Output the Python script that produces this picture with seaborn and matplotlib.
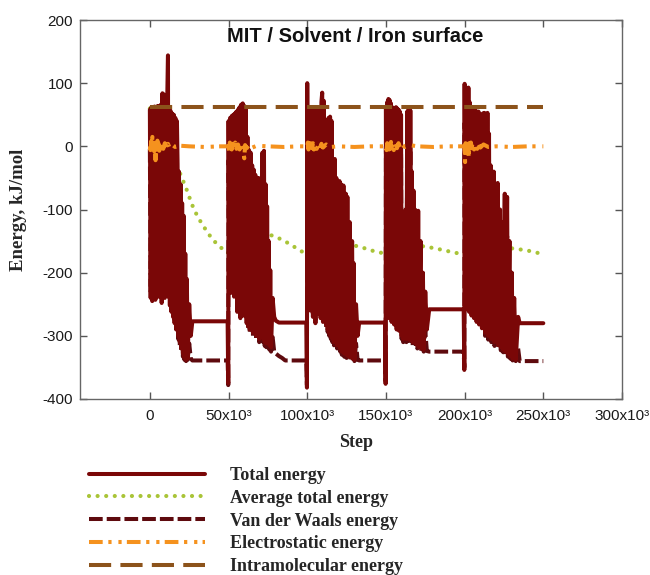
import matplotlib
matplotlib.use("Agg")
import matplotlib.pyplot as plt
import numpy as np
import pandas as pd
import seaborn as sns

# ---------------- data (steps in thousands, energies in kJ/mol) ----------------
md_step_k = [
    # cycle 1
    0.0, 0.5, 1.0, 1.5, 2.0, 2.5, 3.0, 3.5, 4.0, 4.5, 5.0, 5.5, 6.0, 6.5, 7.0, 7.5,
    8.0, 8.5, 9.0, 9.5, 10.0, 10.5, 11.0, 11.5, 11.7, 12.2, 12.7, 13.2, 13.7, 14.2,
    14.7, 15.2, 15.7, 16.2, 16.7, 17.2, 17.6, 18.0, 18.5, 19.0, 19.5, 20.0, 20.5,
    21.0, 21.5, 22.0, 22.5, 23.0, 23.5, 24.0, 25.0, 26.0, 27.0, 49.4, 49.8,
    # cycle 2
    50.0, 50.5, 51.0, 51.5, 52.0, 52.5, 53.0, 53.5, 54.0, 54.5, 55.0, 55.5, 56.0,
    56.5, 57.0, 57.5, 58.0, 58.5, 59.0, 59.5, 60.0, 60.5, 61.0, 61.5, 62.0, 62.5,
    63.0, 63.5, 64.0, 64.5, 65.0, 65.5, 66.0, 66.5, 67.0, 67.5, 68.0, 68.5, 69.0,
    69.5, 70.0, 70.5, 71.5, 72.0, 72.5, 73.0, 73.5, 74.0, 74.5, 75.0, 75.5, 76.0,
    76.5, 77.0, 78.0, 79.0, 80.0, 82.0, 84.0, 86.0, 99.4, 99.8,
    # cycle 3
    100.0, 100.4, 100.8, 101.2, 101.6, 102.0, 102.4, 102.8, 103.2, 103.6, 104.0,
    104.4, 104.8, 105.2, 105.6, 106.0, 106.4, 106.8, 107.2, 107.6, 108.0, 108.5,
    109.0, 109.5, 110.0, 110.5, 111.0, 111.5, 112.0, 112.5, 113.0, 113.5, 114.0,
    114.5, 115.0, 115.5, 116.0, 116.5, 117.0, 117.5, 118.0, 118.5, 119.0, 119.5,
    120.0, 120.5, 121.0, 121.5, 122.0, 123.0, 123.5, 124.5, 125.0, 125.5, 126.0,
    127.0, 127.5, 128.5, 129.0, 129.5, 130.0, 131.0, 132.0, 133.0, 149.4, 149.8,
    # cycle 4
    150.0, 150.4, 150.8, 151.2, 151.6, 152.0, 152.4, 152.8, 153.2, 153.6, 154.0,
    154.4, 154.8, 155.2, 155.6, 156.0, 156.4, 156.8, 157.2, 157.6, 158.0, 158.4,
    158.8, 159.2, 159.6, 160.0, 160.5, 161.0, 161.5, 162.0, 162.5, 163.0, 163.5,
    164.0, 164.5, 165.0, 165.5, 166.0, 166.5, 167.0, 167.5, 168.0, 168.5, 169.0,
    169.5, 170.0, 170.5, 171.0, 172.0, 172.5, 173.5, 174.0, 175.0, 176.0, 177.5,
    199.4, 199.8,
    # cycle 5
    200.0, 200.4, 200.8, 201.2, 201.6, 202.0, 202.4, 202.8, 203.2, 203.6, 204.0,
    204.4, 204.8, 205.2, 205.6, 206.0, 206.4, 206.8, 207.2, 207.6, 208.0, 208.4,
    208.8, 209.2, 209.6, 210.0, 210.5, 211.0, 211.5, 212.0, 212.5, 213.0, 213.5,
    214.0, 214.5, 215.0, 215.5, 216.0, 216.5, 217.0, 217.5, 218.0, 218.5, 219.0,
    219.5, 220.0, 221.0, 221.5, 222.5, 223.0, 224.0, 224.5, 225.5, 226.0, 227.0,
    227.5, 228.5, 229.0, 230.0, 230.5, 231.5, 232.5, 234.0, 235.0, 250.0,
]

total_energy = [
    # cycle 1
    58, -240, 62, -245, 60, -200, 63, -243, 61, -215, 64, -238, 62, -222, 66, -248,
    84, -213, 82, -240, 64, -195, 70, 144, -238, 60, -252, 56, -262, 52,
    -270, 50, -280, 45, -290, 40, -27, -300, -40, -310, -60, -320, -90,
    -328, -110, -334, -170, -338, -210, -336, -250, -300, -277, -277, -375,
    # cycle 2
    40, -222, 45, -232, 48, -210, 50, -238, 52, -228, 55, -262, 58,
    -233, 62, -272, 66, -242, 68, -268, 64, -252, 60, -280, 15, -285,
    -6, -290, -10, -282, -30, -295, -37, -290, -45, -300, -58, -295, -50,
    -305, -80, -300, -10, -305, -7, -310, -60, -312, -95, -310, -150, -315,
    -196, -318, -240, -270, -276, -279, -279, -279, -279, -382,
    # cycle 3
    100, -200, 62, -240, 55, -260, 60, -245, 50, -270, 58,
    -250, 62, -280, 52, -255, 60, -265, 55, -262, 62, -272,
    70, 85, -278, 72, -268, 41, -282, 36, -290, 45, -295,
    47, -300, 40, -305, -43, -310, -20, -305, -50, -315, -58,
    -312, -55, -320, -60, -325, -62, -328, -75, -330, -80, -332,
    -120, -334, -150, -336, -185, -338, -250, -300, -279, -279, -376,
    # cycle 4
    62, -262, 70, -255, 75, -272, 73, -258, 68, -278, 62,
    -262, 60, -282, 58, -268, 62, -290, 60, -272, 58, -292,
    55, -278, 50, -300, -120, -305, -150, -300, -100, -305, 55,
    -300, 60, -306, 57, -305, -40, -310, -70, -308, -100, -312,
    -104, -315, -102, -318, -150, -320, -200, -322, -230, -290, -258,
    -258, -354,
    # cycle 5
    99, -245, 92, -258, 65, -250, 93, -262, 70, -255, 62,
    -268, 60, -258, 58, -272, 62, -262, 56, -278, 52, -268,
    55, -282, 50, -272, 48, -288, 52, -278, 53, -295, 50,
    -290, 53, -300, 20, -298, -30, -305, -58, -303, -40, -310,
    -60, -308, -58, -315, -100, -318, -120, -322, -75, -325, -80,
    -328, -150, -332, -200, -336, -240, -338, -270, -280, -280,
]

vdw_energy = [
    # cycle 1
    -4, -230, 0, -235, -2, -190, 1, -233, -1, -205, 2, -228, 0, -212, 3, -238,
    22, -203, 20, -230, 2, -185, 8, 80, -228, -2, -242, -6, -252, -10,
    -265, -12, -275, -18, -285, -22, -90, -305, -105, -315, -125, -325, -150,
    -333, -175, -338, -235, -340, -272, -338, -312, -336, -339, -339, -378,
    # cycle 2
    -22, -215, -17, -225, -14, -203, -12, -230, -10, -220, -7, -255, -4,
    -226, 0, -265, 4, -235, 6, -260, 2, -245, -2, -272, -47, -290,
    -68, -296, -72, -288, -92, -300, -100, -296, -108, -306, -120, -300, -112,
    -310, -142, -306, -72, -310, -70, -316, -122, -318, -158, -316, -212, -322,
    -258, -325, -302, -325, -328, -332, -335, -339, -339, -378,
    # cycle 3
    30, -195, -2, -235, -6, -255, -4, -240, -10, -265, -4,
    -245, 0, -275, -8, -250, -2, -260, -6, -258, 0, -268,
    8, 22, -273, 10, -263, -21, -286, -26, -294, -17, -300,
    -15, -305, -22, -310, -105, -315, -82, -310, -112, -320, -120,
    -317, -118, -325, -122, -330, -125, -333, -138, -335, -142, -337,
    -182, -338, -212, -339, -248, -340, -312, -338, -339, -339, -372,
    # cycle 4
    0, -255, 8, -248, 12, -265, 10, -250, 6, -270, 0,
    -255, -2, -275, -4, -260, 0, -283, -2, -265, -4, -285,
    -7, -270, -12, -305, -182, -310, -212, -306, -162, -310, -7,
    -306, -2, -312, -5, -310, -102, -316, -132, -314, -162, -318,
    -166, -320, -165, -322, -212, -324, -262, -325, -292, -324, -325,
    -325, -350,
    # cycle 5
    37, -238, 30, -250, 3, -243, 31, -255, 8, -248, 0,
    -260, -2, -250, -4, -265, 0, -255, -6, -270, -10, -260,
    -7, -275, -12, -265, -14, -282, -10, -272, -9, -300, -12,
    -296, -9, -306, -42, -304, -92, -310, -120, -308, -102, -316,
    -122, -314, -120, -320, -162, -323, -182, -326, -138, -330, -142,
    -333, -212, -336, -262, -339, -302, -340, -320, -340, -340,
]

avg_step_k = [
    0, 0.6, 1.2, 2, 5, 10, 14, 17.7, 20, 23, 25, 28, 31.7, 36, 40, 45, 49.5,
    52, 55, 60, 66, 72, 76, 80, 87, 93, 99.5,
    102, 105, 108, 113, 118, 124, 130, 136, 141, 149.5,
    154, 160, 167.6, 174, 180, 186, 193, 199.5,
    204, 209, 215, 223, 232, 240, 247, 250,
]
avg_energy = [
    60, 30, 10, 2, -5, -14, -22, -33, -48, -66, -80, -100, -117, -134, -148, -160, -169,
    -160, -148, -143, -140, -139, -140, -143, -152, -161, -171,
    -166, -161, -155, -150, -149, -151, -157, -161, -165, -170,
    -168, -165, -162, -158, -161, -164, -168, -171,
    -161, -153, -155, -160, -162, -165, -169, -170,
]

elec_step_k = [
    0, 0.4, 0.8, 1.2, 1.6, 2.0, 2.4, 2.8, 3.2, 3.6, 4.0, 4.4, 4.8, 5.2, 5.6, 6.0,
    6.4, 6.8, 7.5, 8.5, 9.5, 10.5, 11.5, 12.5, 14, 16, 19, 25, 35, 45,
    50, 50.4, 50.8, 51.2, 51.6, 52.0, 52.4, 52.8, 53.2, 53.6, 54.2, 55, 56, 57,
    58, 59, 60, 60.5, 61.5, 63, 65, 68, 75, 85, 95,
    100, 100.4, 100.8, 101.2, 101.6, 102, 102.4, 102.8, 103.2, 103.6, 104.2, 105,
    106, 107, 108, 109, 110, 112, 115, 120, 130, 140,
    150, 150.4, 150.8, 151.2, 151.6, 152, 152.4, 152.8, 153.2, 153.6, 154.2, 155,
    156, 157, 158, 159, 160, 162, 165, 170, 180, 190,
    200, 200.3, 200.6, 201, 201.4, 201.8, 202.2, 202.6, 203, 203.5, 204, 204.5,
    205, 206, 207, 208, 209, 210, 212, 215, 220, 230, 240, 250,
]
elec_energy = [
    0, -6, 8, -4, 15, -3, 6, -8, 4, -22, 5, -5, 9, -3, 4, -7,
    3, -2, 6, -4, 5, -3, 4, -2, 3, -1, 1, 0, -1, 0,
    0, -7, 6, -3, 7, -5, 4, -6, 5, -2, 6, -4, 3, -5,
    4, -3, -19, 2, -3, 2, -2, 1, 0, -1, 0,
    0, 6, -5, 7, -4, 5, -6, 3, -3, 5, -5, 3,
    -4, 2, -3, 4, -2, 3, -1, 0, -1, 0,
    0, -6, 5, -8, 4, -5, 6, -4, 7, -3, 5, -6,
    4, -3, 5, -2, 3, -1, 2, 0, -1, 0,
    0, -25, 5, -12, 6, -6, 4, -18, 5, -4, 6, -3,
    5, -5, 3, -4, 4, -2, 3, -1, 0, -1, 0, 0,
]

intra_step_k = [0, 250]
intra_energy = [62, 62]

series_labels = ["Total energy", "Average total energy", "Van der Waals energy",
                 "Electrostatic energy", "Intramolecular energy"]
x_tick_values = [0, 50000, 100000, 150000, 200000, 250000, 300000]
x_tick_labels = ["0", "50x10\u00b3", "100x10\u00b3", "150x10\u00b3", "200x10\u00b3",
                 "250x10\u00b3", "300x10\u00b3"]
y_tick_values = [-400, -300, -200, -100, 0, 100, 200]
y_tick_labels = ["-400", "-300", "-200", "-100", "0", "100", "200"]

# ---------------- tables ----------------
df_md = pd.DataFrame({"step": np.array(md_step_k) * 1000,
                      "total": total_energy, "vdw": vdw_energy})
df_avg = pd.DataFrame({"step": np.array(avg_step_k) * 1000, "energy": avg_energy})
df_elec = pd.DataFrame({"step": np.array(elec_step_k) * 1000, "energy": elec_energy})
df_intra = pd.DataFrame({"step": np.array(intra_step_k) * 1000, "energy": intra_energy})

# ---------------- style ----------------
sns.set_theme(style="ticks")
plt.rcParams["font.family"] = ["Liberation Sans", "DejaVu Sans"]
serif = ["Liberation Serif", "DejaVu Serif"]

fig = plt.figure(figsize=(6.5, 5.75), dpi=100)
ax = fig.add_axes([80 / 650, 1 - 399 / 575, 542 / 650, 379 / 575])

c_total = "#7a0707"
c_avg = "#a9c437"
c_vdw = "#5e0a0e"
c_elec = "#f5921e"
c_intra = "#8c531b"

handles = {}

sns.lineplot(data=df_avg, x="step", y="energy", ax=ax, color=c_avg, lw=3.0,
             estimator=None, sort=False, label=series_labels[1])
ln = ax.lines[-1]
ln.set_dashes((0.01, 2.05)); ln.set_dash_capstyle("round"); ln.set_zorder(2)
handles[series_labels[1]] = ln

sns.lineplot(data=df_md, x="step", y="vdw", ax=ax, color=c_vdw, lw=2.9,
             estimator=None, sort=False, label=series_labels[2])
ln = ax.lines[-1]
ln.set_dashes((3.4, 1.0)); ln.set_zorder(3)
handles[series_labels[2]] = ln

sns.lineplot(data=df_md, x="step", y="total", ax=ax, color=c_total, lw=2.9,
             estimator=None, sort=False, label=series_labels[0])
ln = ax.lines[-1]
ln.set_zorder(4); ln.set_solid_capstyle("round")
handles[series_labels[0]] = ln

sns.lineplot(data=df_elec, x="step", y="energy", ax=ax, color=c_elec, lw=2.9,
             estimator=None, sort=False, label=series_labels[3])
ln = ax.lines[-1]
ln.set_dashes((3.4, 1.4, 0.8, 1.7, 0.8, 1.3)); ln.set_zorder(5)
handles[series_labels[3]] = ln

sns.lineplot(data=df_intra, x="step", y="energy", ax=ax, color=c_intra, lw=2.9,
             estimator=None, sort=False, label=series_labels[4])
ln = ax.lines[-1]
ln.set_dashes((5.5, 2.3)); ln.set_zorder(6)
handles[series_labels[4]] = ln

if ax.get_legend() is not None:
    ax.get_legend().remove()

# ---------------- axes ----------------
ax.set_xlim(-44400, 300000)
ax.set_ylim(-400, 200)
ax.set_xticks(x_tick_values)
ax.set_xticklabels(x_tick_labels)
ax.set_yticks(y_tick_values)
ax.set_yticklabels(y_tick_labels)
ax.tick_params(axis="both", direction="in", length=5, width=1, color="#555555",
               labelsize=11, labelcolor="#1a1a1a", top=True, right=True)
ax.tick_params(axis="x", pad=7)
ax.tick_params(axis="y", pad=5)
for s in ax.spines.values():
    s.set_color("#666666")
    s.set_linewidth(1.0)
    s.set_visible(True)

ax.set_xlabel("Step", fontsize=13, fontweight="bold", family=serif)
ax.set_ylabel("Energy, kJ/mol", fontsize=13.5, fontweight="bold", family=serif)
ax.xaxis.set_label_coords((356 - 80) / 542, (399 - 434) / 379)
ax.yaxis.set_label_coords((27 - 80) / 542, 0.5)

ax.text((355 - 80) / 542, (399 - 37) / 379, "MIT / Solvent / Iron surface",
        transform=ax.transAxes, ha="center", va="center", fontsize=14.5,
        fontweight="bold", color="#111111")

leg = fig.legend([handles[l] for l in series_labels], series_labels,
                 loc="upper left", bbox_to_anchor=(89 / 650, 1 - 467 / 575),
                 frameon=False, borderpad=0, borderaxespad=0,
                 handlelength=6.4, handletextpad=1.4, labelspacing=0.32,
                 prop={"family": serif, "weight": "bold", "size": 13})

fig.savefig("out.png", dpi=100)
